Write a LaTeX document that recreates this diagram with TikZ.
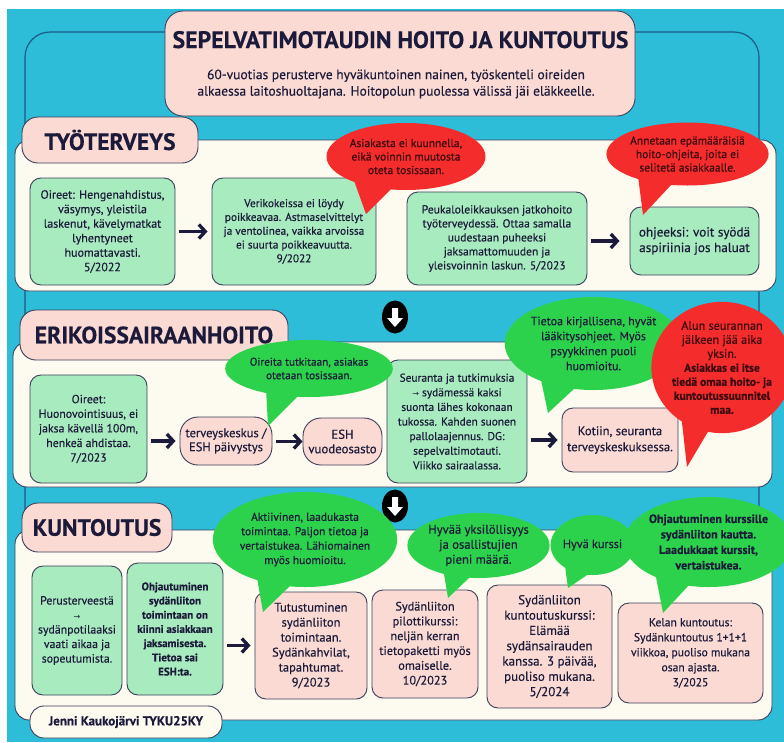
\documentclass[tikz,border=0pt]{standalone}
\usepackage{fontspec}
\setmainfont[FakeBold=0.35]{PT Sans}
\newfontfamily\symf{DejaVu Sans}
\usetikzlibrary{shapes.geometric,arrows.meta,calc}
\definecolor{cyanbg}{HTML}{2DBDD9}
\definecolor{framecol}{HTML}{1C5A86}
\definecolor{edge}{HTML}{3C3F5A}
\definecolor{cream}{HTML}{FDFAF0}
\definecolor{pinkc}{HTML}{FADAD2}
\definecolor{lgreen}{HTML}{A8EBBE}
\definecolor{bgreen}{HTML}{2DD24C}
\definecolor{bred}{HTML}{F42C2C}
\definecolor{ink}{HTML}{1B1A3A}
\definecolor{redink}{HTML}{3A0A10}
\newcommand{\rarr}{{\symf\fontsize{8}{10}\selectfont →}}
\newcommand{\fsz}[2]{\fontsize{#1}{#2}\selectfont}
\begin{document}
\begin{tikzpicture}[x=1pt,y=-1pt,
  panel/.style={draw=edge, fill=cream, line width=0.9pt, rounded corners=14pt},
  lbl/.style={draw=edge, fill=pinkc, line width=0.9pt, rounded corners=16pt, font=\bfseries\fsz{23.6}{26}, text=ink, inner sep=0pt},
  gbox/.style={draw=edge, fill=lgreen, line width=0.9pt, rounded corners=11pt, align=center, text=ink, font=\fsz{10.5}{13.5}, inner sep=0pt},
  pbox/.style={gbox, fill=pinkc},
  flow/.style={draw=ink, line width=3.3pt, -{Straight Barb[length=6.5pt,width=14pt]}, shorten <=4pt, shorten >=4pt},
  gbub/.style={ellipse, fill=bgreen, inner sep=0pt, align=center, text=ink, font=\fsz{11}{13.5}},
  rbub/.style={gbub, fill=bred, text=redink},
  downmark/.style={ellipse, fill=black, minimum width=26, minimum height=33, inner sep=0pt},
]
\useasboundingbox (0,0) rectangle (784,742);
\fill[white] (0,0) rectangle (784,742);
\fill[cyanbg] (7,9) rectangle (784,742);
\draw[framecol, line width=1.2pt, rounded corners=25pt] (25,32) rectangle (759,700);

% panels
\draw[panel] (15,140) rectangle (776,291);
\draw[panel] (13,342) rectangle (772,487);
\draw[panel] (15,530) rectangle (772,720);

% labels
\node[lbl, minimum width=176, minimum height=46] (l1) at (110,140) {TYÖTERVEYS};
\node[lbl, minimum width=268, minimum height=50] (l2) at (154,335) {ERIKOISSAIRAANHOITO};
\node[lbl, minimum width=150, minimum height=49] (l3) at (97,527.5) {KUNTOUTUS};

% title
\node[draw=edge, fill=pinkc, line width=0.9pt, rounded corners=18pt, minimum width=470, minimum height=105] (title) at (400,63.5) {};
\node[anchor=base, font=\bfseries\fsz{23.8}{26}, text=ink, inner sep=0pt] (ttext) at (400.5,48) {SEPELVATIMOTAUDIN HOITO JA KUNTOUTUS};
\node[align=center, font=\fsz{13.5}{16.5}, text=ink, inner sep=0pt] (sub) at (396,84) {60-vuotias perusterve hyväkuntoinen nainen, työskenteli oireiden\\alkaessa laitoshuoltajana. Hoitopolun puolessa välissä jäi eläkkeelle.};

% section 1
\node[gbox, minimum width=145, minimum height=107, font=\fsz{12}{14.5}] (A) at (102.5,231.5) {Oireet: Hengenahdistus,\\väsymys, yleistila\\laskenut, kävelymatkat\\lyhentyneet\\huomattavasti.\\5/2022};
\node[gbox, minimum width=164, minimum height=107, font=\fsz{11.3}{13.8}] (B) at (294,231.5) {Verikokeissa ei löydy\\poikkeavaa. Astmaselvittelyt\\ja ventolinea, vaikka arvoissa\\ei suurta poikkeavuutta.\\9/2022};
\node[gbox, minimum width=180, minimum height=93, font=\fsz{11.6}{14}] (C) at (497,238.5) {Peukaloleikkauksen jatkohoito\\työterveydessä. Ottaa samalla\\uudestaan puheeksi\\jaksamattomuuden ja\\yleisvoinnin laskun. 5/2023};
\node[gbox, minimum width=129, minimum height=68, font=\fsz{13.2}{15.5}] (D) at (694.5,241) {ohjeeksi: voit syödä\\aspiriinia jos haluat};
\draw[flow] (A.east |- B.west) -- (B.west);
\draw[flow, shorten >=10pt] (C.east |- D.west) -- (D.west);

% section 2
\node[gbox, minimum width=117, minimum height=108, font=\fsz{11.8}{14.6}] (E) at (88.5,429) {Oireet:\\Huonovointisuus, ei\\jaksa kävellä 100m,\\henkeä ahdistaa.\\7/2023};
\node[pbox, minimum width=92, minimum height=48, rounded corners=18pt, font=\fsz{12.5}{14}] (F) at (226,441) {terveyskeskus /\\ESH päivystys};
\node[pbox, minimum width=79, minimum height=47, rounded corners=18pt, font=\fsz{12.8}{14.5}] (G) at (342.5,441.5) {ESH\\vuodeosasto};
\node[gbox, minimum width=140, minimum height=123, font=\fsz{11.4}{14.6}] (H) at (457,421.5) {Seuranta ja tutkimuksia\\\rarr{} sydämessä kaksi\\suonta lähes kokonaan\\tukossa. Kahden suonen\\pallolaajennus. DG:\\sepelvaltimotauti.\\Viikko sairaalassa.};
\node[pbox, minimum width=116, minimum height=64, font=\fsz{12.6}{16}] (I) at (620,440) {Kotiin, seuranta\\terveyskeskuksessa.};
\draw[flow] (E.east |- F.west) -- (F.west);
\draw[flow, shorten >=0pt] (F.east |- G.west) -- (G.west);
\draw[flow] (H.east |- I.west) -- (I.west);

% section 3
\node[gbox, minimum width=90, minimum height=129, font=\fsz{11.8}{14.5}] (J) at (77,630.5) {Perusterveestä\\\rarr\\sydänpotilaaksi\\vaati aikaa ja\\sopeutumista.};
\node[gbox, minimum width=96, minimum height=132, font=\bfseries\fsz{11}{14.2}] (K) at (175,629) {Ohjautuminen\\sydänliiton\\toimintaan on\\kiinni asiakkaan\\jaksamisesta.\\Tietoa sai\\ESH:ta.};
\node[pbox, minimum width=112, minimum height=107, font=\fsz{12.5}{15}] (L) at (311,645.5) {Tutustuminen\\sydänliiton\\toimintaan.\\Sydänkahvilat,\\tapahtumat.\\9/2023};
\node[pbox, minimum width=106, minimum height=108, font=\fsz{12.3}{14.8}] (M) at (425,644) {Sydänliiton\\pilottikurssi:\\neljän kerran\\tietopaketti myös\\omaiselle.\\10/2023};
\node[pbox, minimum width=125, minimum height=123, font=\fsz{13}{15.3}] (N) at (549.5,646.5) {Sydänliiton\\kuntoutuskurssi:\\Elämää\\sydänsairauden\\kanssa. 3 päivää,\\puoliso mukana.\\5/2024};
\node[pbox, minimum width=145, minimum height=100, font=\fsz{11.6}{15}] (O) at (690.5,653) {Kelan kuntoutus:\\Sydänkuntoutus 1+1+1\\viikkoa, puoliso mukana\\osan ajasta.\\3/2025};
\draw[flow] (K.east |- L.west) -- (L.west);

% down markers
\node[downmark] (d1) at (395,317) {};
\node[downmark] (d2) at (395,506) {};
\foreach \m in {d1,d2}{
  \fill[white, shift={(\m)}] (-3,-9) -- (3,-9) -- (3,1) -- (8,1) -- (0,10) -- (-8,1) -- (-3,1) -- cycle;
}

% bubbles
\coordinate (t1) at (366,214);
\fill[bred] (352,175) -- (t1) -- (392,188) -- cycle;
\node[rbub, minimum width=132, minimum height=67, font=\fsz{11.5}{13.5}] (r1) at (406,156.5) {Asiakasta ei kuunnella,\\eikä voinnin muutosta\\oteta tosissaan.};

\coordinate (t2) at (643,215);
\fill[bred] (638,176) -- (t2) -- (672,184) -- cycle;
\node[rbub, minimum width=145, minimum height=63, font=\fsz{11.5}{13.5}] (r2) at (687.5,154) {Annetaan epämääräisiä\\hoito-ohjeita, joita ei\\selitetä asiakkaalle.};

\coordinate (t3) at (268,426);
\fill[bgreen] (266,388) -- (t3) -- (300,394) -- cycle;
\node[gbub, minimum width=138, minimum height=57, font=\fsz{11.2}{13.5}] (g1) at (309,368.5) {Oireita tutkitaan, asiakas\\otetaan tosissaan.};

\coordinate (t4) at (548,413);
\fill[bgreen] (540,375) -- (t4) -- (575,388) -- cycle;
\node[gbub, minimum width=147, minimum height=93, font=\fsz{12}{15}] (g2) at (593.5,343.5) {Tietoa kirjallisena, hyvät\\lääkitysohjeet. Myös\\psyykkinen puoli\\huomioitu.};

\coordinate (t5) at (687,467);
\fill[bred] (680,405) -- (t5) -- (712,425) -- cycle;
\node[rbub, minimum width=110, minimum height=125, font=\fsz{12.2}{14}] (r3) at (722,367.5) {Alun seurannan\\jälkeen jää aika\\yksin.\\{\bfseries\fsz{11.6}{14}Asiakkas ei itse}\\{\bfseries\fsz{11.6}{14}tiedä omaa hoito- ja}\\{\bfseries\fsz{11.6}{14}kuntoutussuunnitel}\\{\bfseries\fsz{11.6}{14}maa.}};

\coordinate (t6) at (263,612);
\fill[bgreen] (256,572) -- (t6) -- (292,584) -- cycle;
\node[gbub, minimum width=154, minimum height=95, font=\fsz{11.5}{14.4}] (g3) at (305,539.5) {Aktiivinen, laadukasta\\toimintaa. Paljon tietoa ja\\vertaistukea. Lähiomainen\\myös huomioitu.};

\coordinate (t7) at (448,598);
\fill[bgreen] (443,568) -- (t7) -- (470,577) -- cycle;
\node[gbub, minimum width=103, minimum height=65, font=\fsz{12.6}{15}] (g4) at (478.5,545.5) {Hyvää yksilöllisyys\\ja osallistujien\\pieni määrä.};

\coordinate (t8) at (568,588);
\fill[bgreen] (565,566) -- (t8) -- (590,573) -- cycle;
\node[gbub, minimum width=79, minimum height=60, font=\fsz{12.2}{14}] (g5) at (592.5,545) {Hyvä kurssi};

\coordinate (t9) at (663,613);
\fill[bgreen] (655,572) -- (t9) -- (690,584) -- cycle;
\node[gbub, minimum width=147, minimum height=90, font=\bfseries\fsz{12}{15.5}] (g6) at (708.5,542) {Ohjautuminen kurssille\\sydänliiton kautta.\\Laadukkaat kurssit,\\vertaistukea.};

% signature
\node[draw=edge, fill=cream, line width=0.9pt, rounded corners=14pt, minimum width=192, minimum height=32, font=\bfseries\fsz{13}{14}, text=ink] (jenni) at (126,722) {Jenni Kaukojärvi TYKU25KY};
\end{tikzpicture}
\end{document}
